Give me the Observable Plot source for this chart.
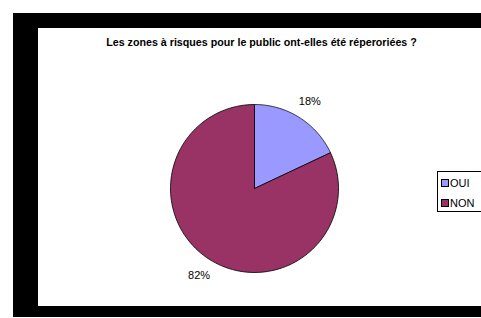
<!DOCTYPE html>
<html><head><meta charset="utf-8">
<script src="https://cdn.jsdelivr.net/npm/d3@7"></script>
<script src="https://cdn.jsdelivr.net/npm/@observablehq/plot@0.6"></script>
<style>
html,body{margin:0;padding:0;background:#fff;overflow:hidden;width:481px;height:318px;font-family:"Liberation Sans",Arial,sans-serif;}
#frame{position:absolute;left:13px;top:13px;width:443px;height:278px;border-left:25px solid #000;border-top:15px solid #000;border-bottom:11px solid #000;background:#fff;overflow:hidden;}
#chart{position:absolute;left:0;top:0;}
#legend{position:absolute;left:399px;top:143px;width:60px;height:39px;border:1px solid #000;background:#fff;font-size:11px;color:#000;}
.item{position:absolute;left:3px;height:12px;line-height:12px;white-space:nowrap;}
.sw{display:inline-block;width:6px;height:6px;border:1px solid #000;margin-right:1px;vertical-align:0px;}
</style></head>
<body>
<div id="frame"><div id="chart"></div><div id="legend"></div></div>
<script>
const title = "Les zones à risques pour le public ont-elles été réperoriées ?";
const categories = ["OUI", "NON"];
const values = [18, 82];
const labels = ["18%", "82%"];
const colors = ["#9999FF", "#993366"];

const W = 443, H = 278, R = 84, CX = 216, CY = 160;
const arcs = d3.pie().sort(null)(values);
const slices = arcs.map((a, i) => {
  const pts = [{x: 0, y: 0}];
  const n = 120;
  for (let k = 0; k <= n; k++) {
    const t = a.startAngle + (a.endAngle - a.startAngle) * k / n;
    pts.push({x: Math.sin(t), y: Math.cos(t)});
  }
  pts.push({x: 0, y: 0});
  return {cat: categories[i], color: colors[i], pts};
});
const labelData = arcs.map((a, i) => {
  const m = (a.startAngle + a.endAngle) / 2;
  return {x: 1.23 * Math.sin(m), y: 1.23 * Math.cos(m), text: labels[i]};
});

const plot = Plot.plot({
  width: W, height: H, margin: 0,
  style: {fontFamily: '"Liberation Sans", Arial, sans-serif', background: "transparent"},
  x: {domain: [-CX / R, (W - CX) / R], axis: null},
  y: {domain: [-(H - CY) / R, CY / R], axis: null},
  marks: [
    ...slices.map(s => Plot.line(s.pts, {x: "x", y: "y", fill: s.color, stroke: "#000", strokeWidth: 0.8, curve: "linear"})),
    Plot.text(labelData, {x: "x", y: "y", text: "text", fontSize: 11, fill: "#000"}),
    Plot.text([title], {frameAnchor: "top", dy: 14, dx: 1.5, lineAnchor: "middle", fontSize: 10.7, fontWeight: "bold", fill: "#000"})
  ]
});
document.getElementById("chart").appendChild(plot);

const lg = document.getElementById("legend");
categories.forEach((c, i) => {
  const d = document.createElement("div");
  d.className = "item";
  d.style.top = (5 + i * 20) + "px";
  d.innerHTML = `<span class="sw" style="background:${colors[i]}"></span>${c}`;
  lg.appendChild(d);
});
</script>
</body></html>
